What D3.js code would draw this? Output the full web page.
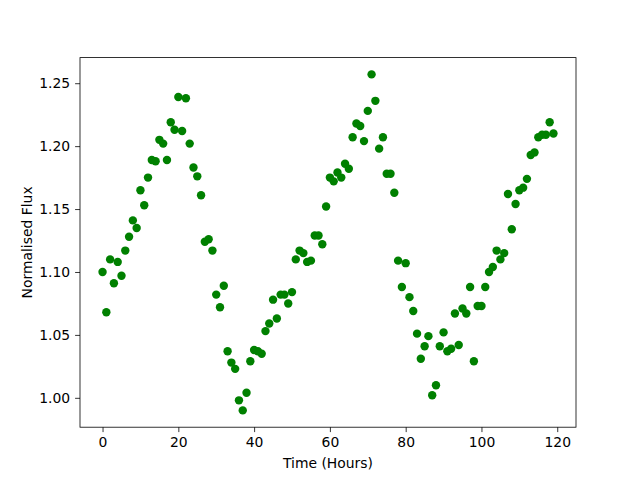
<!DOCTYPE html>
<html>
<head>
<meta charset="utf-8">
<script src="https://cdn.jsdelivr.net/npm/d3@7"></script>
<style>
  body { margin: 0; background: white; }
  svg text { font-family: "DejaVu Sans", sans-serif; fill: black; }
</style>
</head>
<body>
<div id="chart"></div>
<script>
// Observaciones (una por hora)
var hours = d3.range(0, 120);

var flux = [
    1.100, 1.068, 1.110, 1.091, 1.108, 1.097, 1.117, 1.128, 1.141, 1.135,
    1.165, 1.153, 1.175, 1.189, 1.188, 1.205, 1.202, 1.189, 1.219, 1.213,
    1.239, 1.212, 1.238, 1.202, 1.183, 1.176, 1.161, 1.124, 1.126, 1.117,
    1.082, 1.072, 1.089, 1.037, 1.028, 1.023, 0.998, 0.990, 1.004, 1.029,
    1.038, 1.037, 1.035, 1.053, 1.059, 1.078, 1.063, 1.082, 1.082, 1.075,
    1.084, 1.110, 1.117, 1.115, 1.108, 1.109, 1.129, 1.129, 1.122, 1.152,
    1.175, 1.172, 1.179, 1.175, 1.186, 1.182, 1.207, 1.218, 1.216, 1.204,
    1.228, 1.257, 1.236, 1.198, 1.207, 1.178, 1.178, 1.163, 1.109, 1.088,
    1.107, 1.080, 1.069, 1.051, 1.031, 1.041, 1.049, 1.002, 1.010, 1.041,
    1.052, 1.037, 1.039, 1.067, 1.042, 1.071, 1.067, 1.088, 1.029, 1.073,
    1.073, 1.088, 1.100, 1.104, 1.117, 1.110, 1.115, 1.162, 1.134, 1.154,
    1.165, 1.167, 1.174, 1.193, 1.195, 1.207, 1.209, 1.209, 1.219, 1.210
];

var xTicks = [0, 20, 40, 60, 80, 100, 120];
var yTicks = [1.00, 1.05, 1.10, 1.15, 1.20, 1.25];

var svgWidth = 640;
var svgHeight = 480;

var margin = {
    top: 57.6,
    right: 64,
    bottom: 52.8,
    left: 80
};

var width = svgWidth - margin.left - margin.right;
var height = svgHeight - margin.top - margin.bottom;

var data = hours.map((h, i) => ({ time: h, flux: flux[i] }));

var svg = d3.select("#chart")
    .append("svg")
    .attr("width", svgWidth)
    .attr("height", svgHeight);

var chartGroup = svg.append("g")
    .attr("transform", `translate(${margin.left}, ${margin.top})`);

// margen del 5% como matplotlib
function padded(ext) {
    var d = ext[1] - ext[0];
    return [ext[0] - d * 0.05, ext[1] + d * 0.05];
}

var xLinearScale = d3.scaleLinear()
    .domain(padded(d3.extent(data, d => d.time)))
    .range([0, width]);

var yLinearScale = d3.scaleLinear()
    .domain(padded(d3.extent(data, d => d.flux)))
    .range([height, 0]);

var bottomAxis = d3.axisBottom(xLinearScale)
    .tickValues(xTicks)
    .tickSize(4.9)
    .tickPadding(4.9)
    .tickFormat(d3.format("d"));

var leftAxis = d3.axisLeft(yLinearScale)
    .tickValues(yTicks)
    .tickSize(4.9)
    .tickPadding(4.9)
    .tickFormat(d3.format(".2f"));

var xAxis = chartGroup.append("g")
    .attr("transform", `translate(0, ${height})`)
    .call(bottomAxis);

var yAxis = chartGroup.append("g")
    .call(leftAxis);

[xAxis, yAxis].forEach(ax => {
    ax.select(".domain").remove();
    ax.selectAll("line").attr("stroke", "black").attr("stroke-width", 0.8);
    ax.selectAll("text")
        .style("font-size", "13.9px")
        .style("font-family", "DejaVu Sans, sans-serif");
});

// Marco
chartGroup.append("rect")
    .attr("x", 0)
    .attr("y", 0)
    .attr("width", width)
    .attr("height", height)
    .attr("fill", "none")
    .attr("stroke", "black")
    .attr("stroke-width", 0.8);

// Puntos
chartGroup.selectAll("circle")
    .data(data)
    .enter()
    .append("circle")
    .attr("cx", d => xLinearScale(d.time))
    .attr("cy", d => yLinearScale(d.flux))
    .attr("r", 4.2)
    .attr("fill", "green");

// Etiquetas de los ejes
chartGroup.append("text")
    .attr("x", width / 2)
    .attr("y", height + 41)
    .attr("text-anchor", "middle")
    .style("font-size", "13.9px")
    .text("Time (Hours)");

chartGroup.append("text")
    .attr("transform", "rotate(-90)")
    .attr("x", -height / 2)
    .attr("y", -48)
    .attr("text-anchor", "middle")
    .style("font-size", "13.9px")
    .text("Normalised Flux");
</script>
</body>
</html>
